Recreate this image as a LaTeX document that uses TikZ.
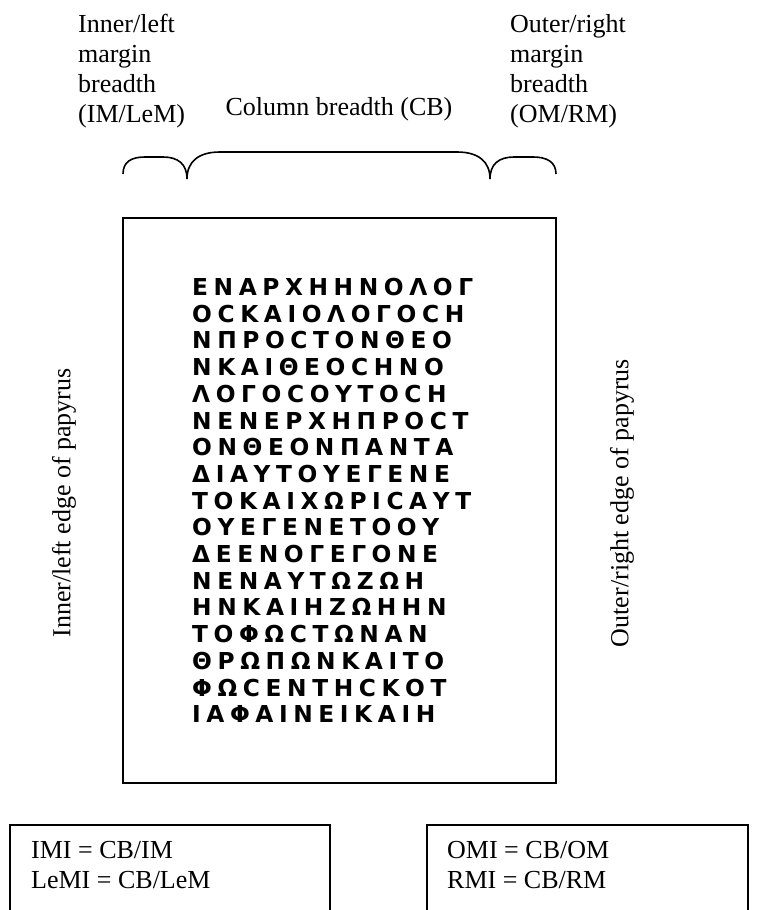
\documentclass[tikz,border=0pt]{standalone}
\usepackage{fontspec}
\setmainfont{Liberation Serif}
\newfontfamily\greekfont[LetterSpace=24]{DejaVu Sans}
\begin{document}
\begin{tikzpicture}[x=1pt,y=-1pt,
  lbl/.style={font=\fontsize{26}{30}\selectfont, inner sep=0pt, align=left},
  edge/.style={line width=1.6pt},
  bracepath/.style={line width=1.6pt}]
\useasboundingbox (0,0) rectangle (778,910);

\node[draw, line width=1.6pt, minimum width=433pt, minimum height=565pt, anchor=north west, inner sep=0pt] (page) at (122,217) {};

\node[anchor=north west, inner sep=0pt, align=left, font=\greekfont\bfseries\fontsize{23.3}{26.7}\selectfont] (greek) at (192,278)
{ΕΝΑΡΧΗΗΝΟΛΟΓ\\
ΟϹΚΑΙΟΛΟΓΟϹΗ\\
ΝΠΡΟϹΤΟΝΘΕΟ\\
ΝΚΑΙΘΕΟϹΗΝΟ\\
ΛΟΓΟϹΟΥΤΟϹΗ\\
ΝΕΝΕΡΧΗΠΡΟϹΤ\\
ΟΝΘΕΟΝΠΑΝΤΑ\\
ΔΙΑΥΤΟΥΕΓΕΝΕ\\
ΤΟΚΑΙΧΩΡΙϹΑΥΤ\\
ΟΥΕΓΕΝΕΤΟΟΥ\\
ΔΕΕΝΟΓΕΓΟΝΕ\\
ΝΕΝΑΥΤΩΖΩΗ\\
ΗΝΚΑΙΗΖΩΗΗΝ\\
ΤΟΦΩϹΤΩΝΑΝ\\
ΘΡΩΠΩΝΚΑΙΤΟ\\
ΦΩϹΕΝΤΗϹΚΟΤ\\
ΙΑΦΑΙΝΕΙΚΑΙΗ};

\draw[bracepath] (123,174) .. controls (123,162) and (131,157) .. (145,157) -- (163,157) .. controls (178,157) and (187,164) .. (187,179);
\draw[bracepath] (187,179) .. controls (187,162) and (198,152) .. (220,152) -- (457,152) .. controls (479,152) and (490,162) .. (490,179);
\draw[bracepath] (490,179) .. controls (490,164) and (499,157) .. (514,157) -- (533,157) .. controls (547,157) and (556,162) .. (556,174);

\node[lbl, anchor=north west] (inner) at (78,14) {Inner/left\\margin\\breadth\\(IM/LeM)};
\node[lbl, anchor=north west] (outer) at (510,14) {Outer/right\\margin\\breadth\\(OM/RM)};
\node[lbl, anchor=base] (col) at (339,115) {Column breadth (CB)};
\node[lbl, rotate=90] (ledge) at (64,503) {Inner/left edge of papyrus};
\node[lbl, rotate=90] (redge) at (622,503) {Outer/right edge of papyrus};

\draw[edge] (10,914) -- (10,825) -- (330,825) -- (330,914);
\draw[edge] (427,914) -- (427,825) -- (748,825) -- (748,914);
\node[lbl, anchor=north west] (imi) at (31,841) {IMI = CB/IM\\LeMI = CB/LeM};
\node[lbl, anchor=north west] (omi) at (447,841) {OMI = CB/OM\\RMI = CB/RM};
\end{tikzpicture}
\end{document}
